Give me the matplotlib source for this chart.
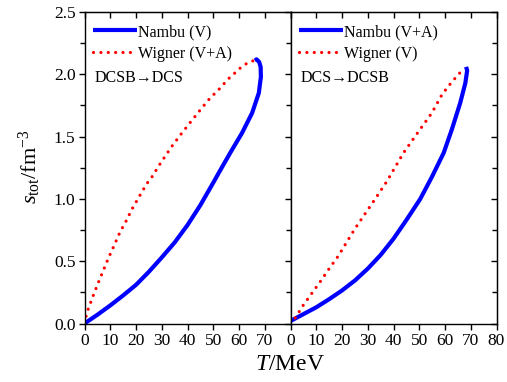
import matplotlib.pyplot as plt
from matplotlib.ticker import MultipleLocator, FormatStrFormatter

plt.rcParams["font.family"] = ["Liberation Serif", "DejaVu Serif"]
plt.rcParams["mathtext.fontset"] = "custom"
plt.rcParams["mathtext.rm"] = "Liberation Serif"
plt.rcParams["mathtext.it"] = "Liberation Serif:italic"

# left panel: DCSB -> DCS
nambuV_T = [0, 5, 10, 15, 20, 25, 30, 35, 40, 45, 50, 53, 56.6, 61.2, 65.1, 67.7, 68.5, 68.4, 67.8, 66.8, 66.2]
nambuV_s = [0, 0.07, 0.145, 0.225, 0.31, 0.415, 0.53, 0.65, 0.79, 0.95, 1.13, 1.24, 1.37, 1.53, 1.69, 1.85, 1.98, 2.06, 2.10, 2.12, 2.11]
wignerVA_T = [0, 0.9, 1.7, 3.5, 5.4, 7.4, 9.4, 11.6, 13.7, 16.1, 18.5, 21.3, 24.1, 26.0, 29.0, 31.9, 34.2,
              37.5, 41.3, 45.2, 49.2, 51.4, 55.7, 60.5, 63.2, 65.7]
wignerVA_s = [0, 0.086, 0.13, 0.23, 0.33, 0.43, 0.53, 0.63, 0.73, 0.82, 0.92, 1.02, 1.12, 1.17, 1.27, 1.36, 1.43,
              1.52, 1.62, 1.72, 1.82, 1.86, 1.96, 2.05, 2.09, 2.11]

# right panel: DCS -> DCSB
nambuVA_T = [0, 5, 10, 15, 20, 25, 30, 35, 40, 45, 50.4, 55, 59.5, 62.7, 65.9, 67.9, 68.6, 68.2]
nambuVA_s = [0.02, 0.075, 0.13, 0.195, 0.265, 0.345, 0.44, 0.55, 0.68, 0.83, 1.0, 1.18, 1.37, 1.56, 1.77, 1.93, 2.03, 2.06]
wignerV_T = [0, 1.7, 4.9, 8.2, 11.7, 15, 18.5, 25, 32.9, 37.4, 43.9, 49.7, 54.9, 58.9, 62.7, 67]
wignerV_s = [0, 0.04, 0.145, 0.24, 0.34, 0.44, 0.54, 0.76, 1.0, 1.14, 1.37, 1.54, 1.69, 1.84, 1.94, 2.04]

panels = [
    (nambuV_T, nambuV_s, "Nambu (V)", wignerVA_T, wignerVA_s, "Wigner (V+A)", "DCSB\u2192DCS"),
    (nambuVA_T, nambuVA_s, "Nambu (V+A)", wignerV_T, wignerV_s, "Wigner (V)", "DCS\u2192DCSB"),
]

fig = plt.figure(figsize=(5.07, 3.82), dpi=100)
W, H = 507, 382
axes = [
    fig.add_axes([84.5 / W, 1 - 323.5 / H, 206 / W, 311.5 / H]),
    fig.add_axes([290.5 / W, 1 - 323.5 / H, 206 / W, 311.5 / H]),
]

for i, (ax, (nT, ns, nlab, wT, ws, wlab, txt)) in enumerate(zip(axes, panels)):
    ax.plot(nT, ns, color="#0000ff", lw=3.0, solid_capstyle="butt", label=nlab)
    ax.plot(wT, ws, color="#ff0000", lw=2.3, linestyle=(0, (0.01, 2.3)),
            dash_capstyle="round", label=wlab)
    ax.set_xlim(0, 80)
    ax.set_ylim(0, 2.5)
    ax.xaxis.set_major_locator(MultipleLocator(10))
    ax.yaxis.set_major_locator(MultipleLocator(0.5))
    ax.yaxis.set_minor_locator(MultipleLocator(0.25))
    ax.yaxis.set_major_formatter(FormatStrFormatter("%.1f"))
    for sp in ax.spines.values():
        sp.set_linewidth(1.0)
    ax.tick_params(axis="x", which="both", direction="out", length=4, width=1,
                   labelsize=12.5, pad=3, top=False)
    # left-side y ticks point outward (into the neighbour for the right panel)
    ax.tick_params(axis="y", which="both", direction="out", width=1,
                   left=True, right=False, labelsize=12.5, pad=2)
    ax.tick_params(axis="y", which="major", length=4.5)
    ax.tick_params(axis="y", which="minor", length=3.5)
    sec = ax.secondary_xaxis("top")
    sec.xaxis.set_major_locator(MultipleLocator(10))
    sec.tick_params(direction="in", length=4.5, width=1, labeltop=False)
    if i == 0:
        ax.set_xticks(range(0, 80, 10))
    else:
        ax.set_xticks(range(0, 90, 10))
        ax.tick_params(axis="y", which="both", labelleft=False)
        secy = ax.secondary_yaxis("right")
        secy.yaxis.set_major_locator(MultipleLocator(0.5))
        secy.yaxis.set_minor_locator(MultipleLocator(0.25))
        secy.tick_params(which="both", direction="in", width=1, labelright=False)
        secy.tick_params(which="major", length=4.5)
        secy.tick_params(which="minor", length=3.5)
    ax.legend(loc="upper left", bbox_to_anchor=(-0.015, 1.0), frameon=False,
              fontsize=11.5, handlelength=2.7, handletextpad=0.1,
              labelspacing=0.35, borderaxespad=0.35)
    ax.text(0.05, 0.788, txt, transform=ax.transAxes, fontsize=11.5,
            ha="left", va="center")

fig.text(290 / W, 1 - 364 / H, "$T$/MeV", ha="center", va="center", fontsize=17)
fig.text(30 / W, 1 - 167 / H, "$s_{\\rm tot}$/fm$^{-3}$", ha="center", va="center",
         rotation=90, fontsize=16)

fig.savefig("out.png", dpi=100)
